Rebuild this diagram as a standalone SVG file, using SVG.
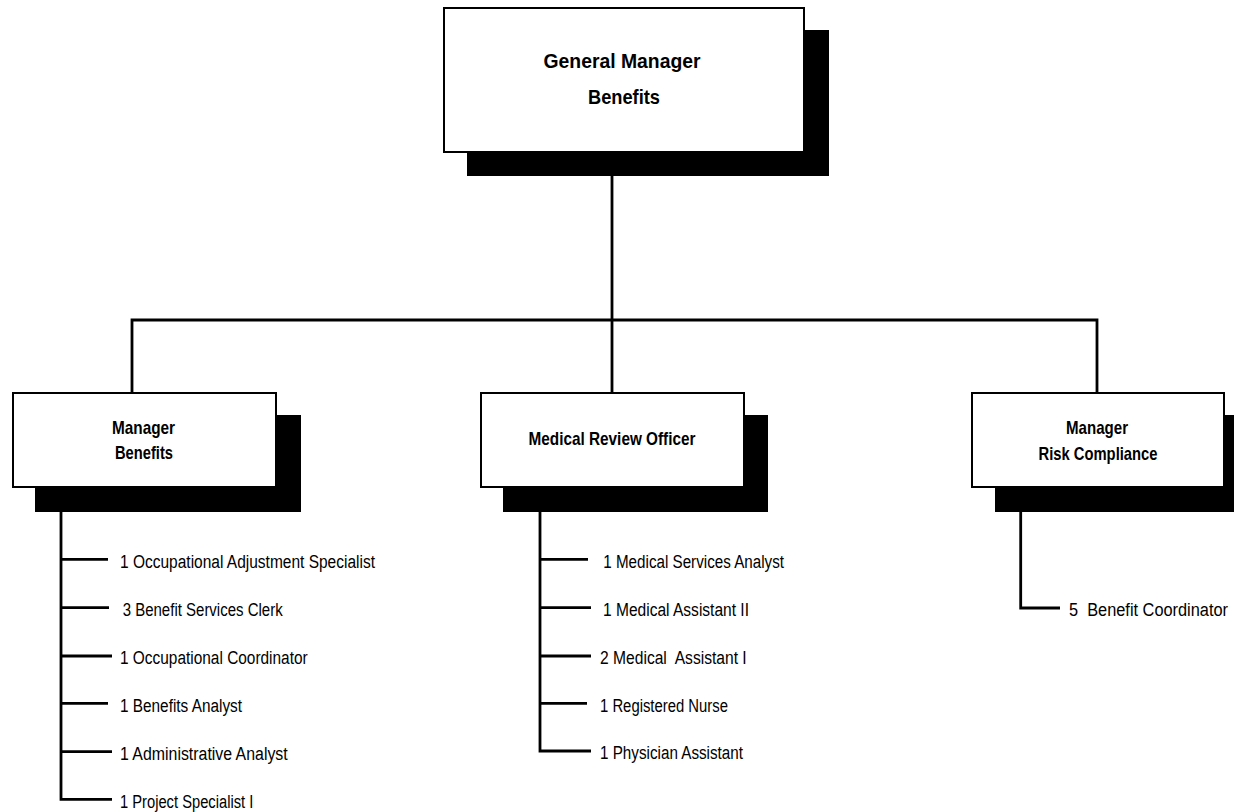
<svg xmlns="http://www.w3.org/2000/svg" width="1234" height="812" viewBox="0 0 1234 812">
  <style>
    .shadow { fill: #000; }
    .box { fill: #fff; stroke: #000; stroke-width: 2; }
    .title { font-family: "Liberation Sans", Arial, sans-serif; font-weight: bold; fill: #000; text-anchor: middle; }
    .t-top { font-size: 21px; }
    .t-mid { font-size: 19px; }
    .item { font-family: "Liberation Sans", Arial, sans-serif; font-size: 18px; fill: #000; }
    .wire { fill: none; stroke: #000; stroke-width: 2.8; stroke-linecap: butt; }
  </style>
  <rect width="1234" height="812" fill="#fff"/>

  <!-- reporting lines -->
  <g id="connectors" class="wire">
    <path d="M612 176 V320"/>
    <path d="M132 392 V320 H1097 V392"/>
    <path d="M612 320 V392"/>
    <!-- Manager Benefits staff -->
    <path d="M61 512 V799.3 H112"/>
    <path d="M61 559.3 H108"/>
    <path d="M61 607.7 H109"/>
    <path d="M61 656 H112"/>
    <path d="M61 703.3 H108"/>
    <path d="M61 751.7 H112"/>
    <!-- Medical Review Officer staff -->
    <path d="M540 512 V751 H591"/>
    <path d="M540 559.3 H588"/>
    <path d="M540 607.7 H591"/>
    <path d="M540 656 H591"/>
    <path d="M540 703.3 H587"/>
    <!-- Risk Compliance staff -->
    <path d="M1020.7 512 V608 H1060"/>
  </g>

  <g id="general-manager">
    <rect class="shadow" x="467" y="30" width="362" height="146"/>
    <rect class="box" x="444" y="8" width="360" height="144"/>
    <text class="title t-top" x="622" y="68" textLength="157" lengthAdjust="spacingAndGlyphs">General Manager</text>
    <text class="title t-top" x="624" y="104" textLength="72" lengthAdjust="spacingAndGlyphs">Benefits</text>
  </g>

  <g id="manager-benefits">
    <rect class="shadow" x="35" y="415" width="266" height="97"/>
    <rect class="box" x="13" y="393" width="263" height="94"/>
    <text class="title t-mid" x="143.5" y="434" textLength="63" lengthAdjust="spacingAndGlyphs">Manager</text>
    <text class="title t-mid" x="144" y="459" textLength="58" lengthAdjust="spacingAndGlyphs">Benefits</text>
  </g>

  <g id="medical-review-officer">
    <rect class="shadow" x="503" y="415" width="265" height="97"/>
    <rect class="box" x="481" y="393" width="263" height="94"/>
    <text class="title t-mid" x="612" y="445" textLength="167" lengthAdjust="spacingAndGlyphs">Medical Review Officer</text>
  </g>

  <g id="manager-risk-compliance">
    <rect class="shadow" x="995" y="415" width="239" height="97"/>
    <rect class="box" x="972" y="393" width="252" height="94"/>
    <text class="title t-mid" x="1097" y="434" textLength="62" lengthAdjust="spacingAndGlyphs">Manager</text>
    <text class="title t-mid" x="1098" y="460" textLength="119" lengthAdjust="spacingAndGlyphs">Risk Compliance</text>
  </g>

  <g id="benefits-staff">
    <text class="item" x="120" y="567.5" textLength="255" lengthAdjust="spacingAndGlyphs">1 Occupational Adjustment Specialist</text>
    <text class="item" x="122.7" y="616" textLength="160" lengthAdjust="spacingAndGlyphs">3 Benefit Services Clerk</text>
    <text class="item" x="120" y="664.3" textLength="187.7" lengthAdjust="spacingAndGlyphs">1 Occupational Coordinator</text>
    <text class="item" x="120" y="711.6" textLength="122" lengthAdjust="spacingAndGlyphs">1 Benefits Analyst</text>
    <text class="item" x="120" y="760" textLength="167.7" lengthAdjust="spacingAndGlyphs">1 Administrative Analyst</text>
    <text class="item" x="120" y="807.6" textLength="133.3" lengthAdjust="spacingAndGlyphs">1 Project Specialist I</text>
  </g>

  <g id="medical-staff">
    <text class="item" x="603.3" y="567.5" textLength="180.7" lengthAdjust="spacingAndGlyphs">1 Medical Services Analyst</text>
    <text class="item" x="603" y="616" textLength="146" lengthAdjust="spacingAndGlyphs">1 Medical Assistant II</text>
    <text class="item" x="600" y="664.3" textLength="146.7" lengthAdjust="spacingAndGlyphs" xml:space="preserve">2 Medical  Assistant I</text>
    <text class="item" x="600" y="711.6" textLength="128" lengthAdjust="spacingAndGlyphs">1 Registered Nurse</text>
    <text class="item" x="600" y="759.3" textLength="143" lengthAdjust="spacingAndGlyphs">1 Physician Assistant</text>
  </g>

  <g id="risk-staff">
    <text class="item" x="1069" y="616.3" textLength="159" lengthAdjust="spacingAndGlyphs" xml:space="preserve">5  Benefit Coordinator</text>
  </g>
</svg>
